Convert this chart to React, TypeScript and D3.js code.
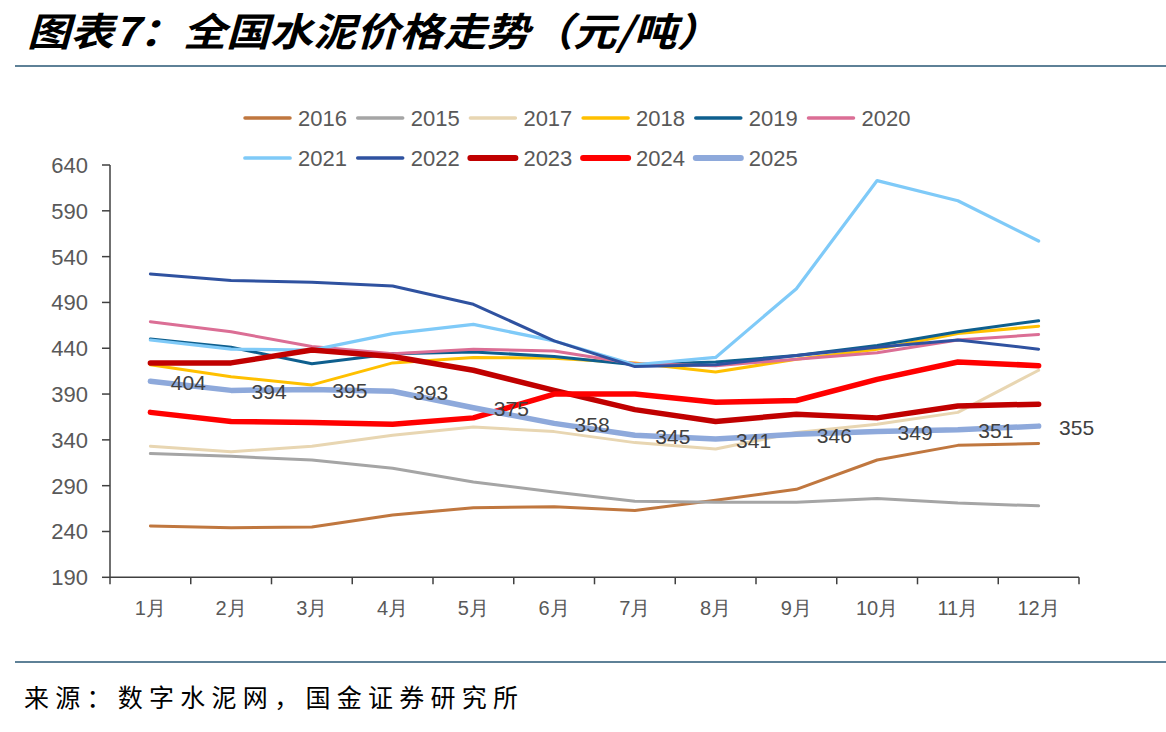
import React from 'react';
import * as d3 from 'd3';

// Months on the category axis
const months = ['1月', '2月', '3月', '4月', '5月', '6月', '7月', '8月', '9月', '10月', '11月', '12月'];
const yTicks = [190, 240, 290, 340, 390, 440, 490, 540, 590, 640];

// National cement price by month (元/吨)
const y2016 = [246, 244, 245, 258, 266, 267, 263, 274, 286, 318, 334, 336];
const y2015 = [325, 322, 318, 309, 294, 283, 273, 272, 272, 276, 271, 268];
const y2017 = [333, 327, 333, 345, 354, 349, 337, 330, 348, 357, 370, 416];
const y2018 = [422, 409, 400, 424, 430, 429, 424, 414, 428, 439, 456, 464];
const y2019 = [450, 441, 423, 434, 436, 431, 422, 425, 432, 443, 458, 470];
const y2020 = [469, 458, 442, 434, 439, 437, 423, 421, 428, 435, 449, 455];
const y2021 = [449, 439, 438, 456, 466, 448, 422, 430, 505, 623, 601, 557];
const y2022 = [521, 514, 512, 508, 488, 448, 420, 422, 432, 441, 449, 439];
const y2023 = [424, 424, 438, 431, 416, 394, 373, 360, 368, 364, 377, 379];
const y2024 = [370, 360, 359, 357, 364, 390, 390, 381, 383, 406, 425, 421];
const y2025 = [404, 394, 395, 393, 375, 358, 345, 341, 346, 349, 351, 355];

const seriesList = [
  { name: '2016', values: y2016, color: '#C0773F', width: 3 },
  { name: '2015', values: y2015, color: '#A5A5A5', width: 3 },
  { name: '2017', values: y2017, color: '#E8D6B2', width: 3 },
  { name: '2018', values: y2018, color: '#FFC000', width: 3 },
  { name: '2019', values: y2019, color: '#0E5F8E', width: 3 },
  { name: '2020', values: y2020, color: '#DB6E95', width: 3 },
  { name: '2021', values: y2021, color: '#7FCAF8', width: 3.2 },
  { name: '2022', values: y2022, color: '#2F52A0', width: 3 },
  { name: '2023', values: y2023, color: '#C00000', width: 5.5 },
  { name: '2024', values: y2024, color: '#FF0000', width: 5.5 },
  { name: '2025', values: y2025, color: '#8EA9DB', width: 5.5 },
];

const W = 1166;
const H = 732;
const plot = { left: 110, right: 1079, top: 165, bottom: 577.3 };

const x = d3.scaleBand<string>().domain(months).range([plot.left, plot.right]).padding(0);
const y = d3.scaleLinear().domain([190, 640]).range([plot.bottom, plot.top]);
const cx = (m: string) => (x(m) as number) + x.bandwidth() / 2;

const line = d3
  .line<number>()
  .x((_, i) => cx(months[i]))
  .y((v) => y(v));

const numFont = '"Liberation Sans", Arial, sans-serif';
const textGray = '#595959';
const ruleColor = '#5E8197';

export default function App() {
  const boundaries = [...months.map((m) => x(m) as number), plot.right];
  const labeled = seriesList[seriesList.length - 1];

  return (
    <svg
      width={W}
      height={H}
      viewBox={`0 0 ${W} ${H}`}
      style={{ position: 'absolute', left: 0, top: 0, background: '#fff' }}
    >
      {/* Title */}
      <text
        x={27}
        y={46}
        textLength={693}
        lengthAdjust="spacingAndGlyphs"
        style={{
          fontFamily: '"Noto Sans CJK SC", sans-serif',
          fontSize: 39,
          fontWeight: 700,
          fontStyle: 'italic',
          fill: '#000',
        }}
      >
        图表7：全国水泥价格走势（元/吨）
      </text>
      <line x1={15} x2={W} y1={66} y2={66} stroke={ruleColor} strokeWidth={2} />

      {/* Legend */}
      {seriesList.map((s, i) => {
        const row = i < 6 ? 0 : 1;
        const col = i < 6 ? i : i - 6;
        const lx = 245 + col * 112.7;
        const ly = row === 0 ? 118 : 158;
        return (
          <g key={s.name}>
            <line
              x1={lx}
              x2={lx + 45}
              y1={ly}
              y2={ly}
              stroke={s.color}
              strokeWidth={s.width + 0.5}
              strokeLinecap="round"
            />
            <text
              x={lx + 53}
              y={ly}
              dy="0.36em"
              style={{ fontFamily: numFont, fontSize: 22, fill: textGray }}
            >
              {s.name}
            </text>
          </g>
        );
      })}

      {/* Y axis */}
      <line x1={plot.left} x2={plot.left} y1={plot.top} y2={plot.bottom} stroke="#404040" strokeWidth={1.5} />
      {yTicks.map((t) => (
        <g key={t}>
          <line x1={plot.left - 8} x2={plot.left} y1={y(t)} y2={y(t)} stroke="#404040" strokeWidth={1.5} />
          <text
            x={88}
            y={y(t)}
            dy="0.36em"
            textAnchor="end"
            style={{ fontFamily: numFont, fontSize: 22, fill: textGray }}
          >
            {t}
          </text>
        </g>
      ))}

      {/* X axis */}
      <line x1={plot.left} x2={plot.right} y1={plot.bottom} y2={plot.bottom} stroke="#404040" strokeWidth={1.5} />
      {boundaries.map((bx, i) => (
        <line key={i} x1={bx} x2={bx} y1={plot.bottom} y2={plot.bottom + 7} stroke="#404040" strokeWidth={1.5} />
      ))}
      {months.map((m) => (
        <text
          key={m}
          x={cx(m)}
          y={608}
          dy="0.36em"
          textAnchor="middle"
          style={{ fontFamily: numFont, fontSize: 20, fill: textGray }}
        >
          {m}
        </text>
      ))}

      {/* Series lines */}
      {seriesList.map((s) => (
        <path
          key={s.name}
          d={line(s.values) || ''}
          fill="none"
          stroke={s.color}
          strokeWidth={s.width}
          strokeLinejoin="round"
          strokeLinecap="round"
        />
      ))}

      {/* Value labels for the latest year */}
      {labeled.values.map((v, i) => (
        <text
          key={i}
          x={cx(months[i]) + 38}
          y={y(v) + 1}
          dy="0.36em"
          textAnchor="middle"
          style={{ fontFamily: numFont, fontSize: 21, fill: '#404040' }}
        >
          {v}
        </text>
      ))}

      {/* Source note */}
      <line x1={15} x2={W} y1={662} y2={662} stroke={ruleColor} strokeWidth={2} />
      <text
        x={24}
        y={698}
        dy="0.36em"
        textLength={494}
        lengthAdjust="spacing"
        style={{ fontFamily: '"Noto Sans CJK SC", sans-serif', fontSize: 25, fill: '#000' }}
      >
        来源：数字水泥网，国金证券研究所
      </text>
    </svg>
  );
}
